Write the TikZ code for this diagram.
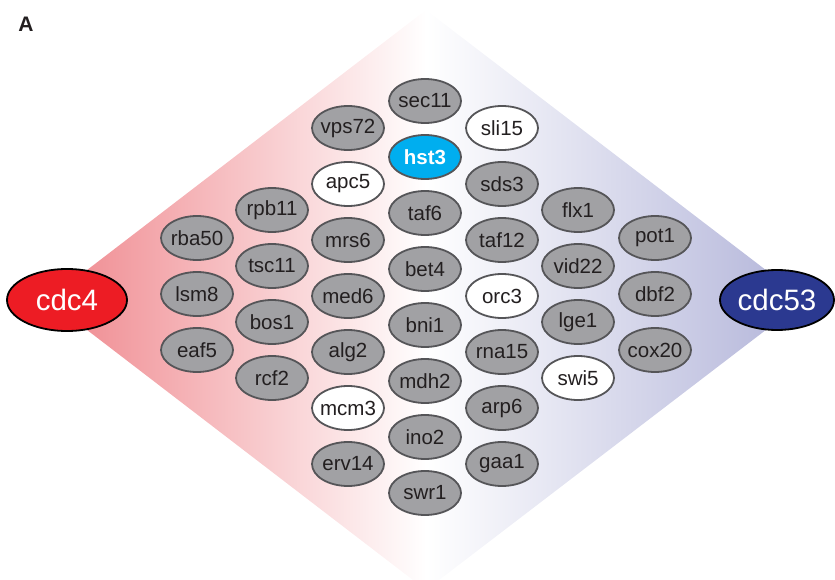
\documentclass[tikz,border=0pt]{standalone}
\usepackage{fontspec}
\setmainfont{Liberation Sans}
\usetikzlibrary{shapes.geometric}
\definecolor{nodegray}{RGB}{161,161,164}
\definecolor{edgegray}{RGB}{85,85,88}
\definecolor{txt}{RGB}{35,31,32}
\definecolor{hstblue}{RGB}{0,174,239}
\definecolor{cdcred}{RGB}{237,28,36}
\definecolor{cdcblue}{RGB}{43,57,144}
\definecolor{leftsh}{RGB}{239,134,140}
\definecolor{rightsh}{RGB}{178,180,217}
\tikzset{
  gene/.style={ellipse, draw=edgegray, line width=1.8pt, fill=nodegray,
    minimum width=72pt, minimum height=44pt, inner xsep=-12pt, inner ysep=0pt, text=txt,
    font=\fontsize{20.5}{20.5}\selectfont},
  wgene/.style={gene, fill=white},
  bgene/.style={gene, fill=hstblue, text=white, font=\fontsize{20.5}{20.5}\selectfont\bfseries},
  hub/.style={ellipse, draw=black, line width=1.8pt, minimum width=120pt,
    minimum height=62pt, inner xsep=-20pt, inner ysep=0pt, text=white, font=\fontsize{29.5}{29.5}\selectfont}
}
\begin{document}
\begin{tikzpicture}[x=1pt,y=-1pt]
\useasboundingbox (0,0) rectangle (835,580);
\begin{scope}
\clip (0,0) rectangle (835,580);
\shade[left color=leftsh, right color=rightsh, middle color=white]
  (48,300) -- (426,10) -- (805,300) -- (426,590) -- cycle;
\end{scope}
\node[font=\fontsize{21}{21}\selectfont\bfseries, text=txt] (lblA) at (26,24) {A};
% column 1
\node[gene] (rba50) at (197,238) {rba50};
\node[gene] (lsm8) at (197,294) {lsm8};
\node[gene] (eaf5) at (197,350) {eaf5};
% column 2
\node[gene] (rpb11) at (272,210) {rpb11};
\node[gene] (tsc11) at (272,266) {tsc11};
\node[gene] (bos1) at (272,322) {bos1};
\node[gene] (rcf2) at (272,378) {rcf2};
% column 3
\node[gene] (vps72) at (348,128) {vps72};
\node[wgene] (apc5) at (348,184) {apc5};
\node[gene] (mrs6) at (348,240) {mrs6};
\node[gene] (med6) at (348,296) {med6};
\node[gene] (alg2) at (348,352) {alg2};
\node[wgene] (mcm3) at (348,408) {mcm3};
\node[gene] (erv14) at (348,464) {erv14};
% column 4
\node[gene] (sec11) at (425,101) {sec11};
\node[bgene] (hst3) at (425,157) {hst3};
\node[gene] (taf6) at (425,213) {taf6};
\node[gene] (bet4) at (425,269) {bet4};
\node[gene] (bni1) at (425,325) {bni1};
\node[gene] (mdh2) at (425,381) {mdh2};
\node[gene] (ino2) at (425,437) {ino2};
\node[gene] (swr1) at (425,493) {swr1};
% column 5
\node[wgene] (sli15) at (502,128) {sli15};
\node[gene] (sds3) at (502,184) {sds3};
\node[gene] (taf12) at (502,240) {taf12};
\node[wgene] (orc3) at (502,296) {orc3};
\node[gene] (rna15) at (502,352) {rna15};
\node[gene] (arp6) at (502,408) {arp6};
\node[gene] (gaa1) at (502,464) {gaa1};
% column 6
\node[gene] (flx1) at (578,210) {flx1};
\node[gene] (vid22) at (578,266) {vid22};
\node[gene] (lge1) at (578,322) {lge1};
\node[wgene] (swi5) at (578,378) {swi5};
% column 7
\node[gene] (pot1) at (655,238) {pot1};
\node[gene] (dbf2) at (655,294) {dbf2};
\node[gene] (cox20) at (655,350) {cox20};
% hubs
\node[hub, fill=cdcred] (cdc4) at (67,300) {cdc4};
\node[hub, fill=cdcblue, minimum width=114pt, minimum height=60pt] (cdc53) at (777,300) {cdc53};
\end{tikzpicture}
\end{document}
